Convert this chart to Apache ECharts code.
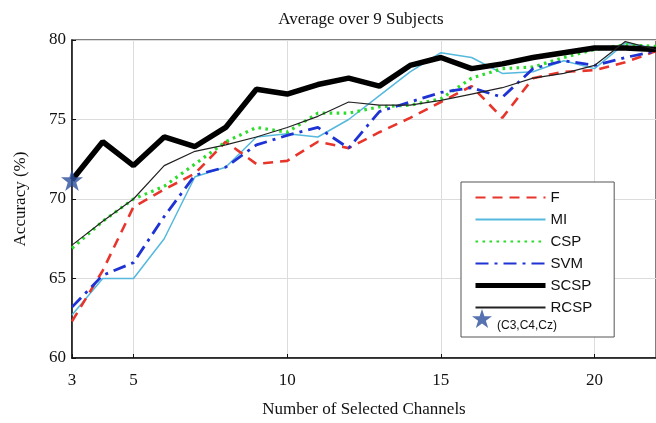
<!DOCTYPE html>
<html>
<head>
<meta charset="utf-8">
<script src="https://cdn.jsdelivr.net/npm/echarts@6/dist/echarts.min.js"></script>
<style>
  html, body { margin: 0; padding: 0; background: #fff; }
  #chart { width: 656px; height: 423px; }
</style>
</head>
<body>
<div id="chart"></div>
<script>
// Number of selected channels (x values)
const channels = [3, 4, 5, 6, 7, 8, 9, 10, 11, 12, 13, 14, 15, 16, 17, 18, 19, 20, 21, 22];

// Average accuracy (%) per method
const accF    = [62.3, 65.5, 69.5, 70.6, 71.6, 73.6, 72.2, 72.4, 73.6, 73.2, 74.2, 75.1, 76.1, 77.1, 75.1, 77.6, 78.0, 78.1, 78.6, 79.3];
const accMI   = [62.7, 65.0, 65.0, 67.5, 71.4, 72.0, 73.9, 74.1, 73.9, 75.0, 76.5, 78.0, 79.2, 78.9, 77.9, 78.0, 78.7, 78.2, 79.8, 79.5];
const accCSP  = [66.9, 68.6, 70.0, 70.8, 72.2, 73.6, 74.5, 74.2, 75.4, 75.4, 75.8, 75.9, 76.3, 77.6, 78.2, 78.3, 78.9, 79.4, 79.7, 79.6];
const accSVM  = [63.2, 65.2, 66.0, 68.9, 71.5, 72.0, 73.4, 74.0, 74.5, 73.2, 75.5, 76.1, 76.7, 77.0, 76.4, 78.2, 78.7, 78.4, 78.9, 79.3];
const accSCSP = [71.2, 73.6, 72.1, 73.9, 73.3, 74.5, 76.9, 76.6, 77.2, 77.6, 77.1, 78.4, 78.9, 78.2, 78.5, 78.9, 79.2, 79.5, 79.5, 79.4];
const accRCSP = [67.1, 68.6, 70.0, 72.1, 73.0, 73.4, 73.9, 74.5, 75.2, 76.1, 75.9, 75.9, 76.2, 76.6, 77.0, 77.6, 77.9, 78.4, 79.9, 79.4];

// Baseline using only C3, C4, Cz
const baseChannels = [3];
const baseAcc = [71.2];

// Tick labels
const xTicks = [3, 5, 10, 15, 20];
const yTicks = [60, 65, 70, 75, 80];

const pairs = (xs, ys) => xs.map((x, i) => [x, ys[i]]);

const STAR = 'path://M50,0 L61.8,35.4 L99,35.4 L69,57.3 L80.3,92.7 L50,70.8 L19.7,92.7 L31,57.3 L1,35.4 L38.2,35.4 Z';
const STAR_COLOR = '#2c4f9c';
const serif = '"Liberation Serif", "DejaVu Serif", serif';
const sans = '"Liberation Sans", Arial, sans-serif';

function lineSeries(name, data, color, width, type, z) {
  return {
    name: name,
    type: 'line',
    data: pairs(channels, data),
    showSymbol: false,
    symbol: 'none',
    z: z,
    lineStyle: { color: color, width: width, type: type },
    itemStyle: { color: color },
    emphasis: { disabled: true },
    animation: false
  };
}

const chart = echarts.init(document.getElementById('chart'), null, { renderer: 'canvas' });

chart.setOption({
  backgroundColor: '#ffffff',
  animation: false,
  title: {
    text: 'Average over 9 Subjects',
    left: 356,
    textAlign: 'center',
    top: 6,
    textStyle: { fontFamily: serif, fontSize: 17, fontWeight: 'normal', color: '#111' }
  },
  grid: { left: 72, top: 40, width: 587, height: 320, show: true, borderColor: '#555', borderWidth: 1.5 },
  xAxis: {
    type: 'value',
    min: 3,
    max: 22,
    name: 'Number of Selected Channels',
    nameLocation: 'middle',
    nameGap: 43,
    nameTextStyle: { fontFamily: serif, fontSize: 17, color: '#111' },
    axisLine: { lineStyle: { color: '#111', width: 1.5 } },
    axisTick: { show: true, inside: true, length: 4, customValues: xTicks, lineStyle: { color: '#111' } },
    axisLabel: { customValues: xTicks, fontFamily: serif, fontSize: 17, color: '#111', margin: 14 },
    splitLine: { show: true, lineStyle: { color: '#dcdcdc', width: 1 } }
  },
  yAxis: {
    type: 'value',
    min: 60,
    max: 80,
    interval: 5,
    name: 'Accuracy (%)',
    nameLocation: 'middle',
    nameGap: 43,
    nameTextStyle: { fontFamily: serif, fontSize: 17, color: '#111' },
    axisLine: { show: true, lineStyle: { color: '#111', width: 1.5 } },
    axisTick: { show: true, inside: true, length: 4, lineStyle: { color: '#111' } },
    axisLabel: {
      fontFamily: serif, fontSize: 17, color: '#111', margin: 6,
      formatter: v => (yTicks.includes(v) ? String(v) : '')
    },
    splitLine: { show: true, lineStyle: { color: '#dcdcdc', width: 1 } }
  },
  legend: [
    {
      // method entries inside the framed box
      orient: 'vertical',
      left: 461,
      top: 182,
      padding: [8, 22, 22, 12],
      itemWidth: 70,
      itemHeight: 13,
      itemGap: 7,
      backgroundColor: '#ffffff',
      borderColor: '#555',
      borderWidth: 1,
      itemStyle: { opacity: 0 },
      textStyle: { fontFamily: sans, fontSize: 15, color: '#111' },
      data: [
        'F', 'MI', 'CSP', 'SVM',
        { name: 'SCSP', lineStyle: { width: 5 } },
        'RCSP'
      ]
    },
    {
      // baseline marker entry at the bottom of the box
      orient: 'vertical',
      left: 472,
      top: 309,
      padding: 0,
      itemWidth: 20,
      itemHeight: 20,
      itemGap: 3,
      icon: STAR,
      itemStyle: { color: STAR_COLOR },
      formatter: name => '{s|' + name + '}',
      textStyle: {
        fontFamily: sans, fontSize: 12, color: '#111',
        rich: { s: { fontFamily: sans, fontSize: 12, color: '#111', padding: [14, 0, 0, 0] } }
      },
      data: ['(C3,C4,Cz)']
    }
  ],
  series: [
    lineSeries('F', accF, '#e8352c', 2.6, [10, 7], 3),
    lineSeries('MI', accMI, '#55b9dd', 1.5, 'solid', 2),
    lineSeries('CSP', accCSP, '#2bdc2b', 3.2, [2.6, 4.4], 3),
    lineSeries('SVM', accSVM, '#1f33d4', 2.8, [13, 6, 3, 6], 4),
    lineSeries('SCSP', accSCSP, '#000000', 5.5, 'solid', 5),
    lineSeries('RCSP', accRCSP, '#222222', 1.2, 'solid', 6),
    {
      name: '(C3,C4,Cz)',
      type: 'scatter',
      data: pairs(baseChannels, baseAcc),
      symbol: STAR,
      symbolSize: 22,
      z: 10,
      clip: false,
      itemStyle: { color: STAR_COLOR },
      emphasis: { disabled: true },
      animation: false
    }
  ]
});
</script>
</body>
</html>
